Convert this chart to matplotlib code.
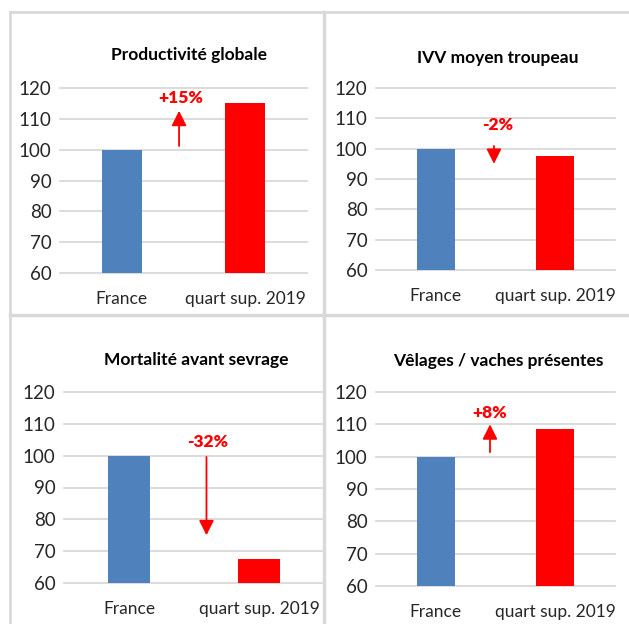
import matplotlib
matplotlib.use("Agg")
import matplotlib.pyplot as plt
from matplotlib.lines import Line2D

plt.rcParams['font.family'] = ['Lato', 'DejaVu Sans']

categories = ["France", "quart sup. 2019"]
titles = ["Productivité globale", "IVV moyen troupeau",
          "Mortalité avant sevrage", "Vêlages / vaches présentes"]
france_vals = [100, 100, 100, 100]
quart_vals = [115, 97.6, 67.6, 108.6]
labels = ["+15%", "-2%", "-32%", "+8%"]
yticks = [60, 70, 80, 90, 100, 110, 120]

W, H = 629, 624
fig = plt.figure(figsize=(W / 100, H / 100), dpi=100)

def fx(x):
    return x / W

def fy(y):
    return 1 - y / H

# panel geometry in pixels: (left, right, top, bottom)
boxes = [(60, 307, 88, 273), (376, 615, 88, 270),
         (64, 324, 392, 583), (376, 615, 392, 586)]
arrows = [(0.464, 101.2, 112.6), (0.487, 100.9, 95.0),
          (0.596, 99.6, 75.0), (0.454, 101.4, 110.0)]
texts = [(0.478, 116.8), (0.52, 107.8), (0.604, 104.3), (0.454, 113.5)]
title_y = [55, 58, 360, 361]
title_x = [189, 498, 196, 498]

for i in range(4):
    l, r, t, b = boxes[i]
    ax = fig.add_axes([fx(l), fy(b), fx(r) - fx(l), (b - t) / H])
    ax.set_xlim(-0.5, 1.5)
    ax.set_ylim(60, 120)
    for v in yticks:
        ax.axhline(v, color="#D9D9D9", lw=1.3, zorder=0, clip_on=False)
    ax.bar([0, 1], [france_vals[i] - 60, quart_vals[i] - 60], bottom=60,
           width=0.32, color=["#4F81BD", "#FF0000"], zorder=2)
    for s in ax.spines.values():
        s.set_visible(False)
    ax.set_yticks(yticks)
    ax.set_yticklabels([str(v) for v in yticks], fontsize=13.5, color="#262626")
    ax.set_xticks([0, 1])
    ax.set_xticklabels(categories, fontsize=12.5, color="#262626")
    ax.tick_params(axis="both", length=0)
    ax.tick_params(axis="y", pad=6)
    ax.tick_params(axis="x", pad=13)
    ax.patch.set_alpha(0)
    ax_x, y0, y1 = arrows[i]
    ax.annotate("", xy=(ax_x, y1), xytext=(ax_x, y0),
                arrowprops=dict(arrowstyle="-|>,head_length=0.9,head_width=0.45",
                                color="#FF0000", lw=1.3, shrinkA=0, shrinkB=0))
    tx, ty = texts[i]
    ax.text(tx, ty, labels[i], color="#FF0000", fontsize=12.5, fontweight="heavy",
            ha="center", va="center")
    fig.text(fx(title_x[i]), fy(title_y[i]), titles[i], fontsize=12.5,
             fontweight="bold", ha="center", va="center", color="#000000")

# panel frame lines
grey = "#D9D9D9"
fig.add_artist(Line2D([fx(10), fx(629)], [fy(12), fy(12)], color=grey, lw=2))
fig.add_artist(Line2D([fx(10), fx(10)], [fy(12), fy(624)], color=grey, lw=2))
fig.add_artist(Line2D([fx(10), fx(629)], [fy(314.5), fy(314.5)], color=grey, lw=2.5))
fig.add_artist(Line2D([fx(324), fx(324)], [fy(12), fy(624)], color=grey, lw=2.5))

fig.savefig("out.png", dpi=100)
